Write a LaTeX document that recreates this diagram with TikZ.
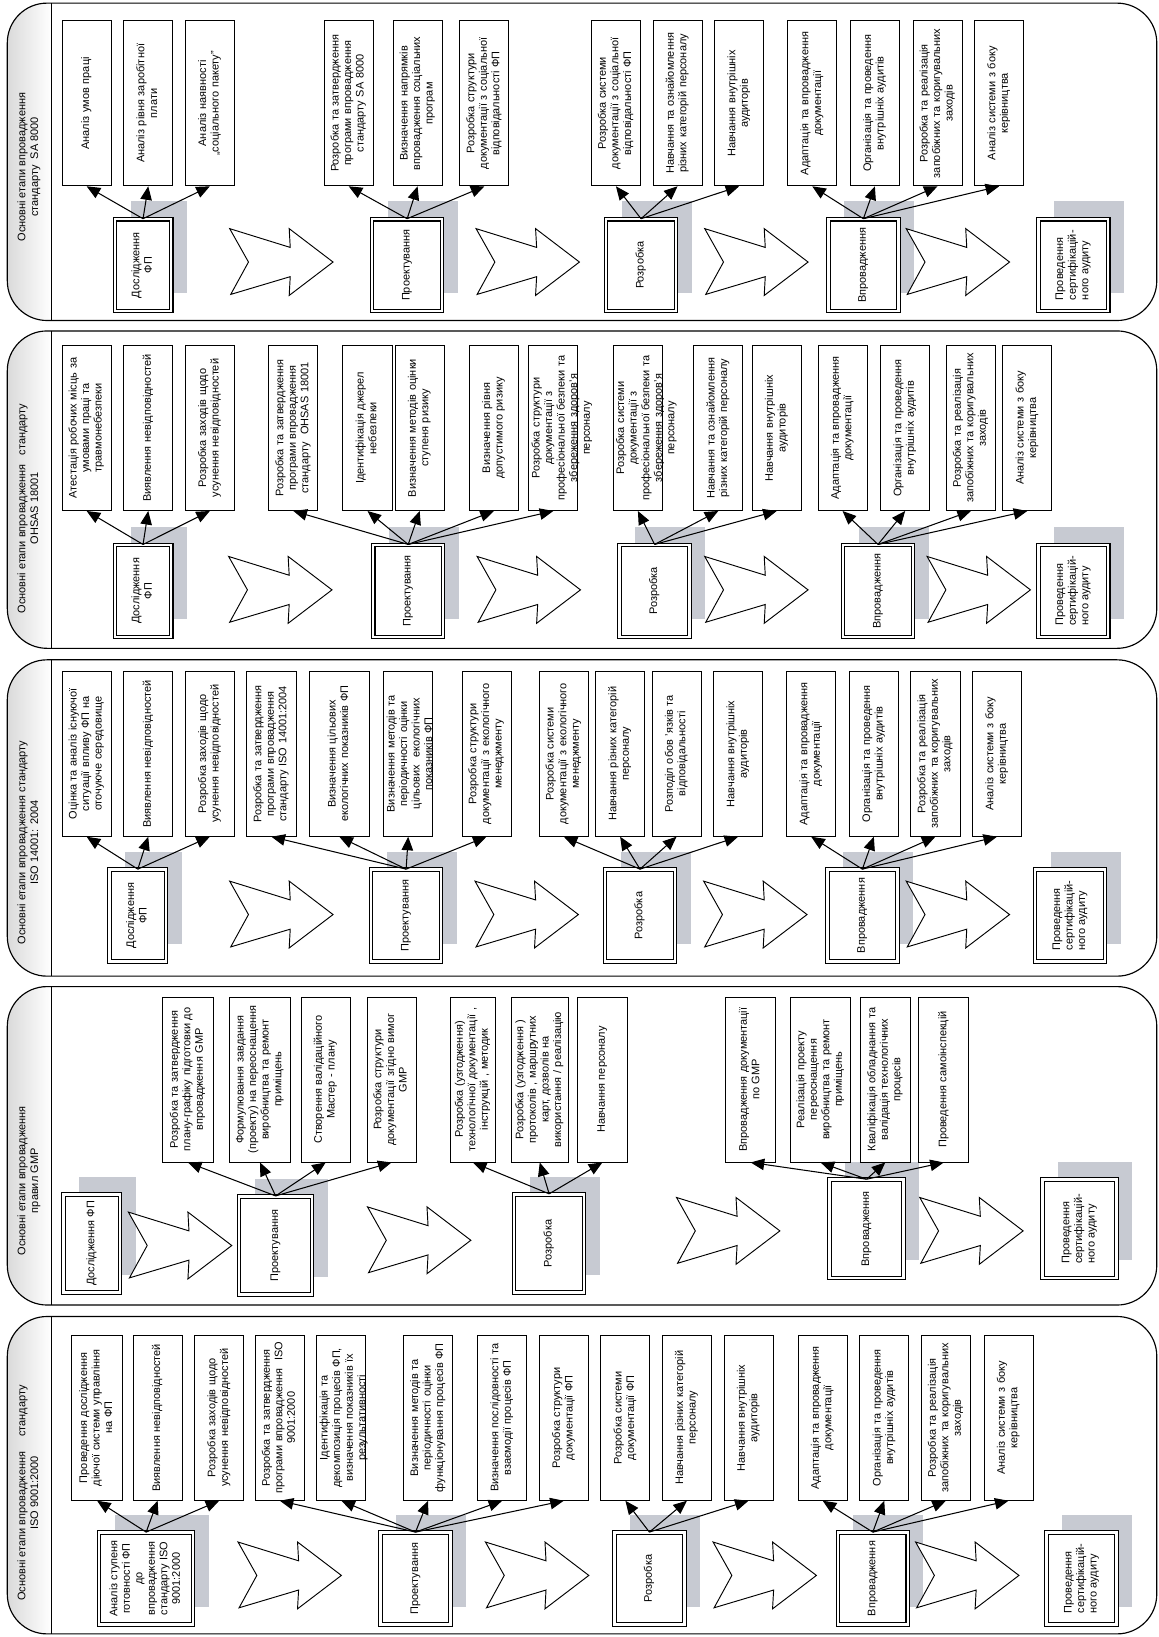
\documentclass[tikz,border=0pt]{standalone}
\usepackage{fontspec}
\setmainfont{Liberation Sans}
\usetikzlibrary{arrows.meta,shadows}

\definecolor{shadowgray}{RGB}{199,202,210}
\definecolor{stripgray}{RGB}{218,218,218}

% rotated text block (reads upwards), lines centred unless told otherwise
\newcommand{\vtext}[2][c]{\rotatebox{90}{\begin{tabular}{@{}#1@{}}#2\end{tabular}}}
% white notched arrow between two stages, #1,#2 = top left corner
\newcommand{\stagearrow}[2]{%
  \draw[chev, shift={(#1,#2)}] (0,0) -- (58,18) -- (57,0) -- (99,32) -- (57,64)
    -- (58,46) -- (1,63) -- (18,32) -- cycle;}
% one band: shaded title strip, outline and divider, #1 = top, #2 = bottom
\newcommand{\band}[2]{%
  \begin{scope}
    \clip[rounded corners=38pt] (7,#1) rectangle (1108,#2);
    \shade[left color=stripgray, right color=white] (7,#1) rectangle (49,#2);
  \end{scope}
  \draw[bandline, rounded corners=38pt] (7,#1) rectangle (1108,#2);
  \draw[bandline] (49,#1) -- (49,#2);}

\tikzset{
  task/.style={draw, fill=white, line width=0.9pt, minimum height=158pt,
    text width=#1, align=center, inner sep=2pt},
  task/.default=43pt,
  stage/.style={draw, double, double distance=2.4pt, line width=1pt, fill=white,
    minimum width=#1, minimum height=88pt, inner sep=2pt,
    drop shadow={shadow xshift=15pt, shadow yshift=17pt, fill=shadowgray,
      opacity=1, draw=none}},
  stage/.default=67pt,
  gmpstage/.style={stage=#1, minimum height=94pt},
  gmpstage/.default=67pt,
  bandtitle/.style={inner sep=0pt},
  arr/.style={line width=1pt, -{Triangle[length=13pt,width=11pt]}},
  chev/.style={draw, fill=white, line width=0.9pt},
  bandline/.style={line width=1.1pt}
}

\begin{document}
\begin{tikzpicture}[x=1pt, y=-1pt, font=\fontsize{10.5}{12}\selectfont]
  \useasboundingbox (0,0) rectangle (1110,1568);

  % ================= SA 8000 =================
  \band{3}{307}
  \node[bandtitle] (sa-t) at (28,160) {\vtext{Основні етапи впровадження\\стандарту\ \ SA 8000}};

  % stages
  \node[stage=54pt] (sa-s1) at (137,254) {\vtext{Дослідження\\ФП}};
  \node[stage] (sa-s2) at (390,254) {\vtext{Проектування}};
  \node[stage] (sa-s3) at (614,254) {\vtext{Розробка}};
  \node[stage] (sa-s4) at (827,254) {\vtext{Впровадження}};
  \node[stage] (sa-s5) at (1028,254) {\vtext[l]{Проведення\\сертифікацій-\\ного аудиту}};

  % tasks
  \node[task] (sa-a1) at (83,99) {\vtext{Аналіз умов праці\hspace{52pt}}};
  \node[task] (sa-a2) at (142,99) {\vtext{Аналіз рівня заробітної\\плати}};
  \node[task] (sa-a3) at (201,99) {\vtext{Аналіз наявності\\„соціального пакету”}};
  \node[task] (sa-b1) at (334,99) {\vtext{Розробка та затвердження\\програми впровадження\\стандарту SA 8000}};
  \node[task] (sa-b2) at (400,99) {\vtext{Визначення напрямків\\впровадження соціальних\\програм}};
  \node[task] (sa-b3) at (464,99) {\vtext{Розробка структури\\документації з соціальної\\відповідальності ФП}};
  \node[task] (sa-c1) at (590,99) {\vtext{Розробка системи\\документації з соціальної\\відповідальності ФП}};
  \node[task] (sa-c2) at (649,99) {\vtext{Навчання та ознайомлення\\різних категорій персоналу}};
  \node[task] (sa-c3) at (708,99) {\vtext{Навчання внутрішніх\\аудиторів}};
  \node[task] (sa-d1) at (778,99) {\vtext{Адаптація та впровадження\\документації}};
  \node[task] (sa-d2) at (838,99) {\vtext{Організація та проведення\\внутрішніх аудитів}};
  \node[task] (sa-d3) at (898,99) {\vtext{Розробка та реалізація\\запобіжних та коригувальних\\заходів}};
  \node[task] (sa-d4) at (957,99) {\vtext{Аналіз системи з боку\\керівництва}};

  % arrows
  \path[arr] (sa-s1.north) edge (sa-a1.south) edge (sa-a2.south) edge (sa-a3.south);
  \path[arr] (sa-s2.north) edge (sa-b1.south) edge (sa-b2.south) edge (sa-b3.south);
  \path[arr] (sa-s3.north) edge (sa-c1.south) edge (sa-c2.south) edge (sa-c3.south);
  \path[arr] (sa-s4.north) edge (sa-d1.south) edge (sa-d2.south) edge (sa-d3.south) edge (sa-d4.south);
  \stagearrow{220}{219}
  \stagearrow{456}{219}
  \stagearrow{675}{219}
  \stagearrow{868}{219}

  % ================= OHSAS 18001 =================
  \band{317}{621}
  \node[bandtitle] (oh-t) at (28,487) {\vtext{Основні етапи впровадження\ \ \ стандарту\\OHSAS 18001}};

  % stages
  \node[stage=54pt] (oh-s1) at (137,566) {\vtext{Дослідження\\ФП}};
  \node[stage] (oh-s2) at (391,566) {\vtext{Проектування}};
  \node[stage] (oh-s3) at (627,566) {\vtext{Розробка}};
  \node[stage] (oh-s4) at (841,566) {\vtext{Впровадження}};
  \node[stage] (oh-s5) at (1028,566) {\vtext[l]{Проведення\\сертифікацій-\\ного аудиту}};

  % tasks
  \node[task] (oh-a1) at (83,410) {\vtext{Атестація робочих місць за\\умовами праці та\\травмонебезпеки}};
  \node[task] (oh-a2) at (142,410) {\vtext{Виявлення невідповідностей}};
  \node[task] (oh-a3) at (201,410) {\vtext{Розробка заходів щодо\\усунення невідповідностей}};
  \node[task] (oh-b1) at (281,410) {\vtext{Розробка та затвердження\\програми впровадження\\стандарту\ \ OHSAS 18001}};
  \node[task] (oh-b2) at (352,410) {\vtext{Ідентифікація джерел\\небезпеки}};
  \node[task] (oh-b3) at (402,410) {\vtext{Визначення методів оцінки\\ступеня ризику}};
  \node[task] (oh-b4) at (473,410) {\vtext{Визначення рівня\\допустимого ризику}};
  \node[task] (oh-b5) at (530,410) {\vtext{Розробка структури\\документації з\\професіональної безпеки та\\збереження здоров'я\\персоналу}};
  \node[task] (oh-c1) at (611,410) {\vtext{Розробка системи\\документації з\\професіональної безпеки та\\збереження здоров'я\\персоналу}};
  \node[task] (oh-c2) at (688,410) {\vtext{Навчання та ознайомлення\\різних категорій персоналу}};
  \node[task] (oh-c3) at (744,410) {\vtext{Навчання внутрішніх\\аудиторів}};
  \node[task] (oh-d1) at (807,410) {\vtext{Адаптація та впровадження\\документації}};
  \node[task] (oh-d2) at (867,410) {\vtext{Організація та проведення\\внутрішніх аудитів}};
  \node[task] (oh-d3) at (930,410) {\vtext{Розробка та реалізація\\запобіжних та коригувальних\\заходів}};
  \node[task] (oh-d4) at (984,410) {\vtext{Аналіз системи з боку\\керівництва}};

  % arrows
  \path[arr] (oh-s1.north) edge (oh-a1.south) edge (oh-a2.south) edge (oh-a3.south);
  \path[arr] (oh-s2.north) edge (oh-b1.south) edge (oh-b2.south) edge (oh-b3.south) edge (oh-b4.south) edge (oh-b5.south);
  \path[arr] (oh-s3.north) edge (oh-c1.south) edge (oh-c2.south) edge (oh-c3.south);
  \path[arr] (oh-s4.north) edge (oh-d1.south) edge (oh-d2.south) edge (oh-d3.south) edge (oh-d4.south);
  \stagearrow{219}{533}
  \stagearrow{457}{533}
  \stagearrow{675}{533}
  \stagearrow{888}{533}

  % ================= ISO 14001 =================
  \band{632}{935}
  \node[bandtitle] (en-t) at (28,807) {\vtext{Основні етапи впровадження стандарту\\ISO 14001: 2004}};

  % stages
  \node[stage=54pt] (en-s1) at (132,877) {\vtext{Дослідження\\ФП}};
  \node[stage] (en-s2) at (389,877) {\vtext{Проектування}};
  \node[stage] (en-s3) at (613,877) {\vtext{Розробка}};
  \node[stage] (en-s4) at (826,877) {\vtext{Впровадження}};
  \node[stage] (en-s5) at (1025,877) {\vtext[l]{Проведення\\сертифікацій-\\ного аудиту}};

  % tasks
  \node[task] (en-a1) at (83,722) {\vtext{Оцінка та аналіз існуючої\\ситуації впливу ФП на\\оточуюче середовище}};
  \node[task] (en-a2) at (142,722) {\vtext{Виявлення невідповідностей}};
  \node[task] (en-a3) at (201,722) {\vtext{Розробка заходів щодо\\усунення невідповідностей}};
  \node[task] (en-b1) at (260,722) {\vtext{Розробка та затвердження\\програми впровадження\\стандарту ISO 14001:2004}};
  \node[task=53pt] (en-b2) at (325,722) {\vtext{Визначення цільових\\екологічних показників ФП}};
  \node[task] (en-b3) at (391,722) {\vtext{Визначення методів та\\періодичності оцінки\\цільових\ \ екологічних\\показників ФП}};
  \node[task] (en-b4) at (466,722) {\vtext{Розробка структури\\документації з екологічного\\менеджменту}};
  \node[task] (en-c1) at (540,722) {\vtext{Розробка системи\\документації з екологічного\\менеджменту}};
  \node[task] (en-c2) at (594,722) {\vtext{Навчання різних категорій\\персоналу}};
  \node[task] (en-c3) at (648,722) {\vtext{Розподіл обов 'язків та\\відповідальності}};
  \node[task] (en-c4) at (707,722) {\vtext{Навчання внутрішніх\\аудиторів}};
  \node[task] (en-d1) at (777,722) {\vtext{Адаптація та впровадження\\документації}};
  \node[task] (en-d2) at (837,722) {\vtext{Організація та проведення\\внутрішніх аудитів}};
  \node[task] (en-d3) at (896,722) {\vtext{Розробка та реалізація\\запобіжних та коригувальних\\заходів}};
  \node[task] (en-d4) at (955,722) {\vtext{Аналіз системи з боку\\керівництва}};

  % arrows
  \path[arr] (en-s1.north) edge (en-a1.south) edge (en-a2.south) edge (en-a3.south);
  \path[arr] (en-s2.north) edge (en-b1.south) edge (en-b2.south) edge (en-b3.south) edge (en-b4.south);
  \path[arr] (en-s3.north) edge (en-c1.south) edge (en-c2.south) edge (en-c3.south) edge (en-c4.south);
  \path[arr] (en-s4.north) edge (en-d1.south) edge (en-d2.south) edge (en-d3.south) edge (en-d4.south);
  \stagearrow{220}{844}
  \stagearrow{455}{844}
  \stagearrow{674}{844}
  \stagearrow{868}{844}

  % ================= GMP =================
  \band{945}{1250}
  \node[bandtitle] (gmp-t) at (28,1131) {\vtext{Основні етапи впровадження\\правил GMP}};

  % stages
  \node[gmpstage=54pt] (gmp-s1) at (88,1191) {\vtext{Дослідження ФП}};
  \node[gmpstage=70pt] (gmp-s2) at (264,1193) {\vtext{Проектування}};
  \node[gmpstage] (gmp-s3) at (526,1191) {\vtext{Розробка}};
  \node[gmpstage=71pt] (gmp-s4) at (830,1177) {\vtext{Впровадження}};
  \node[gmpstage=71pt] (gmp-s5) at (1034,1177) {\vtext[l]{Проведення\\сертифікацій-\\ного аудиту}};

  % tasks
  \node[task=45pt] (gmp-b1) at (180,1034) {\vtext{Розробка та затвердження\\плану-графіку підготовки до\\впровадження GMP}};
  \node[task=55pt] (gmp-b2) at (249,1034) {\vtext{Формулювання завдання\\(проекту) на переоснащення\\виробництва та ремонт\\приміщень}};
  \node[task] (gmp-b3) at (312,1034) {\vtext{Створення валідаційного\\Мастер - плану}};
  \node[task] (gmp-b4) at (375,1034) {\vtext{Розробка структури\\документації згідно вимог\\GMP}};
  \node[task=39pt] (gmp-c1) at (453,1034) {\vtext{Розробка (узгодження)\\технологічної документації ,\\інструкцій , методик}};
  \node[task=51pt] (gmp-c2) at (517,1034) {\vtext{Розробка (узгодження )\\протоколів , маршрутних\\карт, дозволів на\\використання / реалізацію}};
  \node[task=44pt] (gmp-c3) at (577,1034) {\vtext{Навчання персоналу}};
  \node[task=44pt] (gmp-d1) at (719,1034) {\vtext{Впровадження документації\\по GMP}};
  \node[task=54pt] (gmp-d2) at (786,1034) {\vtext{Реалізація проекту\\переоснащення\\виробництва та ремонт\\приміщень}};
  \node[task=44pt] (gmp-d3) at (848,1034) {\vtext{Кваліфікація обладнання та\\валідація технологічних\\процесів}};
  \node[task=44pt] (gmp-d4) at (904,1034) {\vtext{Проведення самоінспекцій}};

  % arrows
  \path[arr] (gmp-s2.north) edge (gmp-b1.south) edge (gmp-b2.south) edge (gmp-b3.south) edge (gmp-b4.south);
  \path[arr] (gmp-s3.north) edge (gmp-c1.south) edge (gmp-c2.south) edge (gmp-c3.south);
  \path[arr] (gmp-s4.north) edge (gmp-d1.south) edge (gmp-d2.south) edge (gmp-d3.south) edge (gmp-d4.south);
  \stagearrow{123}{1161}
  \stagearrow{352}{1156}
  \stagearrow{648}{1147}
  \stagearrow{881}{1147}

  % ================= ISO 9001 =================
  \band{1261}{1565}
  \node[bandtitle] (iso-t) at (28,1430) {\vtext{Основні етапи впровадження\ \ \ \ \ стандарту\\ISO 9001:2000}};

  % stages
  \node[stage=90pt] (iso-s1) at (140,1512) {\vtext{Аналіз ступеня\\готовності ФП\\до\\впровадження\\стандарту ISO\\9001:2000}};
  \node[stage] (iso-s2) at (398,1512) {\vtext{Проектування}};
  \node[stage] (iso-s3) at (622,1512) {\vtext{Розробка}};
  \node[stage] (iso-s4) at (836,1512) {\vtext{Впровадження}};
  \node[stage] (iso-s5) at (1036,1512) {\vtext[l]{Проведення\\сертифікацій-\\ного аудиту}};

  % tasks
  \node[task=45pt] (iso-a1) at (93,1358) {\vtext{Проведення дослідження\\діючої системи управління\\на ФП}};
  \node[task] (iso-a2) at (151,1358) {\vtext{Виявлення невідповідностей}};
  \node[task] (iso-a3) at (210,1358) {\vtext{Розробка заходів щодо\\усунення невідповідностей}};
  \node[task] (iso-b1) at (268,1358) {\vtext{Розробка та затвердження\\програми впровадження\ \ ISO\\9001:2000}};
  \node[task] (iso-b2) at (327,1358) {\vtext{Ідентифікація та\\декомпозиція процесів ФП,\\визначення показників їх\\результативності}};
  \node[task] (iso-b3) at (410,1358) {\vtext{Визначення методів та\\періодичності оцінки\\функціонування процесів ФП}};
  \node[task] (iso-b4) at (481,1358) {\vtext{Визначення послідовності та\\взаємодії процесів ФП}};
  \node[task] (iso-b5) at (540,1358) {\vtext{Розробка структури\\документації ФП}};
  \node[task] (iso-c1) at (599,1358) {\vtext{Розробка системи\\документації ФП}};
  \node[task] (iso-c2) at (658,1358) {\vtext{Навчання різних категорій\\персоналу}};
  \node[task] (iso-c3) at (717,1358) {\vtext{Навчання внутрішніх\\аудиторів}};
  \node[task] (iso-d1) at (788,1358) {\vtext{Адаптація та впровадження\\документації}};
  \node[task] (iso-d2) at (847,1358) {\vtext{Організація та проведення\\внутрішніх аудитів}};
  \node[task] (iso-d3) at (906,1358) {\vtext{Розробка та реалізація\\запобіжних та коригувальних\\заходів}};
  \node[task] (iso-d4) at (966,1358) {\vtext{Аналіз системи з боку\\керівництва}};

  % arrows
  \path[arr] (iso-s1.north) edge (iso-a1.south) edge (iso-a2.south) edge (iso-a3.south);
  \path[arr] (iso-s2.north) edge (iso-b1.south) edge (iso-b2.south) edge (iso-b3.south) edge (iso-b4.south) edge (iso-b5.south);
  \path[arr] (iso-s3.north) edge (iso-c1.south) edge (iso-c2.south) edge (iso-c3.south);
  \path[arr] (iso-s4.north) edge (iso-d1.south) edge (iso-d2.south) edge (iso-d3.south) edge (iso-d4.south);
  \stagearrow{228}{1477}
  \stagearrow{465}{1477}
  \stagearrow{683}{1477}
  \stagearrow{877}{1477}
\end{tikzpicture}
\end{document}
